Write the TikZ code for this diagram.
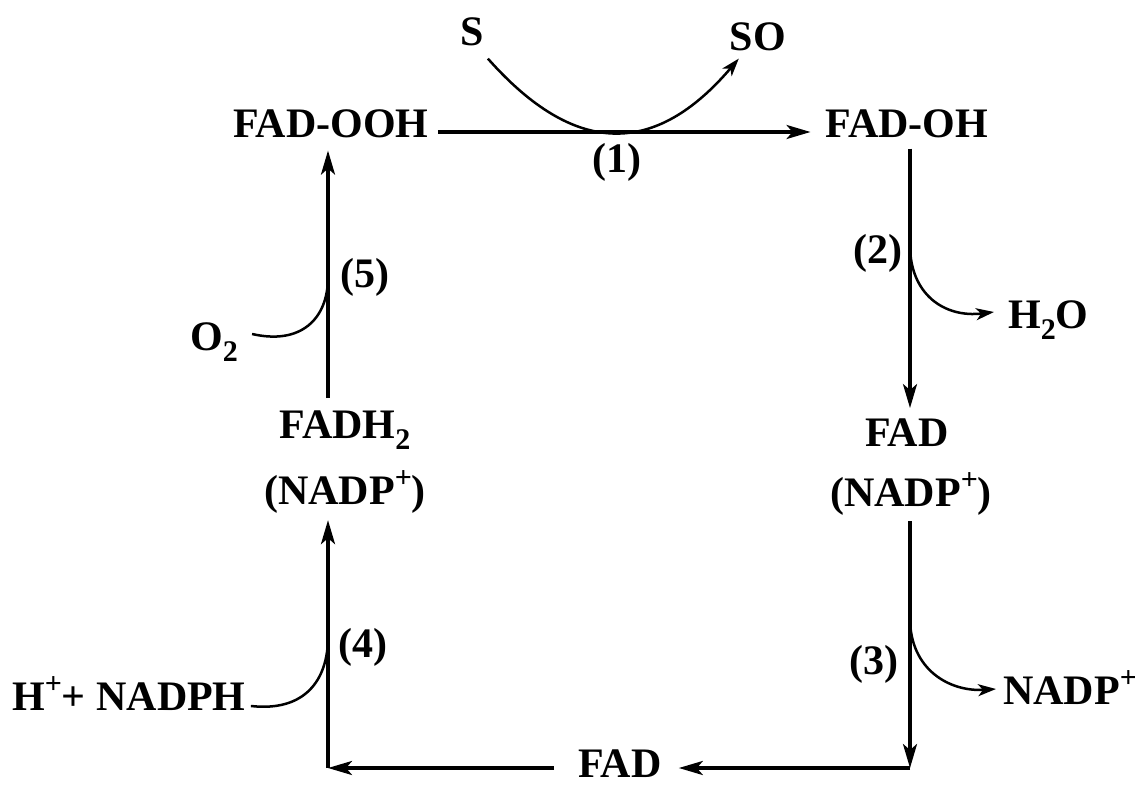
\documentclass[tikz,border=0pt]{standalone}
\usepackage{fontspec}
\setmainfont{Liberation Serif}
\usetikzlibrary{arrows.meta,calc}
\newcommand{\mysub}[1]{\raisebox{-0.28em}{\fontsize{30}{32}\selectfont #1}}
\newcommand{\mysup}[1]{\raisebox{0.4em}{\fontsize{30}{32}\selectfont #1}}
\begin{document}
\begin{tikzpicture}[x=1pt,y=-1pt,
  lab/.style={inner sep=0pt, font=\fontsize{42}{48}\selectfont\bfseries, anchor=base},
  main/.style={line width=3.3pt, -{Stealth[length=24pt,width=14pt,inset=6pt]}},
  side/.style={line width=2.5pt, -{Stealth[length=18pt,width=12pt,inset=5pt]}},
  plain/.style={line width=2.5pt}]
\useasboundingbox (0,0) rectangle (1135,786);
% nodes
\node[lab] (fadooh) at (331,138) {FAD-OOH};
\node[lab] (fadoh) at (907,138) {FAD-OH};
\node[lab] (s) at (472,46) {S};
\node[lab] (so) at (758,51) {SO};
\node[lab] (n1) at (617,173) {(1)};
\node[lab] (n2) at (878,264) {(2)};
\node[lab, anchor=base west] (h2o) at (1008,328) {H\mysub{2}O};
\node[lab] (fadR) at (907,446) {FAD};
\node[lab] (nadpR) at (911,506) {(NADP\mysup{+})};
\node[lab] (n3) at (874,674) {(3)};
\node[lab, anchor=base west] (nadpOut) at (1003,704) {NADP\mysup{+}};
\node[lab] (fadB) at (620,777) {FAD};
\node[lab] (fadh2) at (345,438) {FADH\mysub{2}};
\node[lab] (nadpL) at (345,504) {(NADP\mysup{+})};
\node[lab] (n5) at (365,288) {(5)};
\node[lab, anchor=base west] (o2) at (190,350) {O\mysub{2}};
\node[lab] (n4) at (363,657) {(4)};
\node[lab, anchor=base west] (hn) at (12,710) {H\mysup{+}+ NADPH};
% junctions
\coordinate (cR) at (910,768);
\coordinate (cL) at (328,768);
\coordinate (j1) at (615,132);
\coordinate (j2) at (910,245);
\coordinate (j3) at (910,618);
\coordinate (j4) at (328,637);
\coordinate (j5) at (328,277);
% main cycle
\draw[main] ($(fadooh.east|-j1)+(9,0)$) -- ($(fadoh.west|-j1)+(-15,0)$);
\draw[main] ($(fadoh.south-|j2)+(0,10)$) -- ($(fadR.north-|j2)+(0,-10)$);
\draw[main] ($(nadpR.south-|j3)+(0,6)$) -- (cR);
\draw[main] (cR) -- ($(fadB.east|-cR)+(17,0)$);
\draw[main] ($(fadB.west|-cL)+(-24,0)$) -- (cL);
\draw[main] (cL) -- ($(nadpL.south-|cL)+(0,7)$);
\draw[main] ($(fadh2.north-|j5)+(0,-12)$) -- ($(fadooh.south-|j5)+(0,12)$);
% side reactions
\draw[side] ($(s.south east)+(4,12)$) .. controls (575,157) and (655,157) .. ($(so.south west)+(9,7)$);
\draw[side] (j2) .. controls (910,295) and (945,318) .. ($(h2o.base west)+(-14,-16)$);
\draw[side] (j3) .. controls (910,670) and (950,692) .. ($(nadpOut.base west)+(-7,-15)$);
\draw[plain] ($(hn.base east)+(5,-4)$) .. controls (305,712) and (328,680) .. (j4);
\draw[plain] ($(o2.base east)+(14,-16)$) .. controls (300,345) and (328,320) .. (j5);
\end{tikzpicture}
\end{document}
